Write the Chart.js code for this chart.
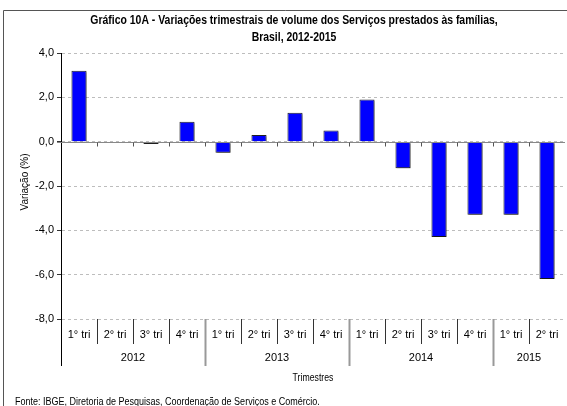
<!DOCTYPE html>
<html>
<head>
<meta charset="utf-8">
<script src="https://cdn.jsdelivr.net/npm/chart.js@4"></script>
<style>
  body { margin: 0; background: #fff; }
  #wrap { width: 567px; height: 406px; position: relative; }
</style>
</head>
<body>
<div id="wrap"><canvas id="myChart"></canvas></div>
<script>
// data
const quarters = ['1° tri', '2° tri', '3° tri', '4° tri', '1° tri', '2° tri', '3° tri', '4° tri',
                  '1° tri', '2° tri', '3° tri', '4° tri', '1° tri', '2° tri'];
const years = ['2012', '2013', '2014', '2015'];
const quartersPerYear = [4, 4, 4, 2];
const variacao = [3.2, 0.0, -0.1, 0.9, -0.5, 0.3, 1.3, 0.5, 1.9, -1.2, -4.3, -3.3, -3.3, -6.2];
const yTicks = [4, 2, 0, -2, -4, -6, -8];

const FONT = '"Liberation Sans", Arial, sans-serif';

// draws text squeezed horizontally (the original uses a narrow font)
function narrowText(c, txt, x, y, sx) {
  c.save();
  c.translate(x, y);
  c.scale(sx, 1);
  c.fillText(txt, 0, 0);
  c.restore();
}

// frame, titles, bottom label rows and separators
const decor = {
  id: 'decor',
  beforeDraw(chart) {
    const c = chart.ctx;
    c.save();
    c.fillStyle = '#fff';
    c.fillRect(0, 0, chart.width, chart.height);
    c.strokeStyle = '#555';
    c.lineWidth = 1;
    c.beginPath();
    c.moveTo(3.5, 406);
    c.lineTo(3.5, 10.5);
    c.lineTo(567, 10.5);
    c.stroke();
    c.restore();
  },
  afterDraw(chart) {
    const c = chart.ctx;
    const x = chart.scales.x;
    const y = chart.scales.y;
    const area = chart.chartArea;
    const bottom = area.bottom;
    c.save();
    c.fillStyle = '#000';
    c.textAlign = 'center';
    c.textBaseline = 'middle';
    c.font = 'bold 12px ' + FONT;
    narrowText(c, 'Gráfico 10A - Variações trimestrais de volume dos Serviços prestados às famílias,', 294, 21, 0.87);
    narrowText(c, 'Brasil, 2012-2015', 294, 38, 0.87);

    // zero line with little ticks
    const y0 = Math.round(y.getPixelForValue(0)) + 0.5;
    c.strokeStyle = '#888';
    c.lineWidth = 1;
    c.beginPath();
    c.moveTo(area.left - 4, y0);
    c.lineTo(area.right, y0);
    c.stroke();
    const half = (x.getPixelForValue(1) - x.getPixelForValue(0)) / 2;
    c.strokeStyle = '#555';
    for (let i = 1; i < quarters.length; i++) {
      const px = Math.round(x.getPixelForValue(i) - half) + 0.5;
      c.beginPath();
      c.moveTo(px, y0);
      c.lineTo(px, y0 + 4);
      c.stroke();
    }

    // quarter labels
    c.font = '11px ' + FONT;
    quarters.forEach((q, i) => c.fillText(q, x.getPixelForValue(i), bottom + 16));

    // separators
    let start = 0;
    const yearStarts = [];
    quartersPerYear.forEach(n => { yearStarts.push(start); start += n; });
    for (let i = 1; i < quarters.length; i++) {
      const px = Math.round(x.getPixelForValue(i) - half) + 0.5;
      const isYear = yearStarts.includes(i);
      c.strokeStyle = isYear ? '#999' : '#333';
      c.lineWidth = isYear ? 2 : 1;
      c.beginPath();
      c.moveTo(px, bottom);
      c.lineTo(px, bottom + (isYear ? 47 : 25));
      c.stroke();
    }
    c.strokeStyle = '#000';
    c.lineWidth = 1;
    c.beginPath();
    c.moveTo(Math.round(area.left) + 0.5, bottom);
    c.lineTo(Math.round(area.left) + 0.5, bottom + 47);
    c.stroke();

    // year labels
    years.forEach((yr, k) => {
      const a = x.getPixelForValue(yearStarts[k]);
      const b = x.getPixelForValue(yearStarts[k] + quartersPerYear[k] - 1);
      c.fillText(yr, (a + b) / 2, bottom + 39);
    });

    c.font = '10px ' + FONT;
    narrowText(c, 'Trimestres', (area.left + area.right) / 2, bottom + 59, 0.87);

    c.save();
    c.translate(25, 182);
    c.rotate(-Math.PI / 2);
    c.fillText('Variação (%)', 0, 0);
    c.restore();

    c.textAlign = 'left';
    c.font = '10px ' + FONT;
    narrowText(c, 'Fonte: IBGE, Diretoria de Pesquisas, Coordenação de Serviços e Comércio.', 15, 402, 0.9);
    c.restore();
  }
};

// dark edge and soft shadow behind the bars
const barShadow = {
  id: 'barShadow',
  beforeDatasetsDraw(chart) {
    const c = chart.ctx;
    c.save();
    c.shadowColor = 'rgba(0,0,0,0.35)';
    c.shadowOffsetX = 1.5;
    c.shadowOffsetY = 1.5;
    c.shadowBlur = 1;
  },
  afterDatasetsDraw(chart) {
    chart.ctx.restore();
  }
};

const ctx = document.getElementById('myChart');

new Chart(ctx, {
  type: 'bar',
  data: {
    labels: quarters,
    datasets: [{
      label: 'Variação (%)',
      data: variacao,
      backgroundColor: '#0000ff',
      borderColor: '#222',
      borderWidth: 1,
      barPercentage: 0.42,
      categoryPercentage: 1
    }]
  },
  options: {
    responsive: true,
    maintainAspectRatio: false,
    animation: false,
    devicePixelRatio: 1,
    layout: { padding: { top: 53, right: 2, left: 0, bottom: 0 } },
    plugins: {
      legend: { display: false },
      tooltip: { enabled: false }
    },
    scales: {
      x: {
        ticks: { display: false },
        grid: { display: false },
        border: { display: false },
        afterFit: s => { s.height = 87; }
      },
      y: {
        min: -8,
        max: 4,
        afterFit: s => { s.width = 61; },
        afterBuildTicks: s => { s.ticks = yTicks.map(v => ({ value: v })); },
        ticks: {
          font: { family: FONT, size: 11 },
          color: '#000',
          padding: 3,
          callback: v => v.toFixed(1).replace('.', ',')
        },
        grid: {
          color: '#bdbdbd',
          tickColor: '#333',
          tickLength: 4,
          tickBorderDash: [],
          drawTicks: true
        },
        border: { display: true, color: '#000', dash: [3, 3] }
      }
    }
  },
  plugins: [decor, barShadow]
});
</script>
</body>
</html>
